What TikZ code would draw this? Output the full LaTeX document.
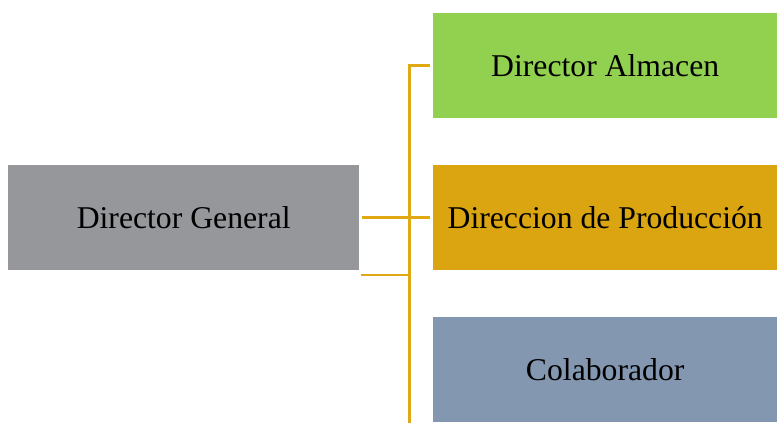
\documentclass[tikz,border=0pt]{standalone}
\usepackage{fontspec}
\setmainfont{Liberation Serif}
\usetikzlibrary{positioning}

\definecolor{grisdir}{HTML}{96979B}
\definecolor{verdealm}{HTML}{92D050}
\definecolor{oroprod}{HTML}{DAA510}
\definecolor{azulcol}{HTML}{8497B0}
\definecolor{lineaoro}{HTML}{E0A812}

\tikzset{
  caja/.style={minimum width=344pt, minimum height=104.5pt, inner sep=0pt,
    font=\fontsize{31.7}{36}\selectfont},
  linea/.style={draw=lineaoro, line width=2.6pt}
}

\begin{document}
\begin{tikzpicture}[x=1pt,y=-1pt]
        % Marco
        \useasboundingbox (0,0) rectangle (777,423);

        % Cajas
        \node[caja, fill=grisdir, minimum width=351pt, anchor=north west] (general) at (8,165) {Director General};
        \node[caja, fill=verdealm, anchor=north west] (almacen) at (433,13) {Director Almacen};
        \node[caja, fill=oroprod, below=47pt of almacen] (produccion) {Direccion de Producción};
        \node[caja, fill=azulcol, below=47pt of produccion] (colab) {Colaborador};

        % Conectores
        \coordinate (pie) at (409.5,423);
        \draw[linea] ([xshift=-3pt]almacen.west) -| (pie);
        \draw[linea] ([xshift=3pt]general.east) -- ([xshift=-3pt]general.east -| produccion.west);
        \draw[linea] ([xshift=2pt,yshift=-5pt]general.south east) coordinate (ramal) -- (ramal -| pie);

\end{tikzpicture}
\end{document}
